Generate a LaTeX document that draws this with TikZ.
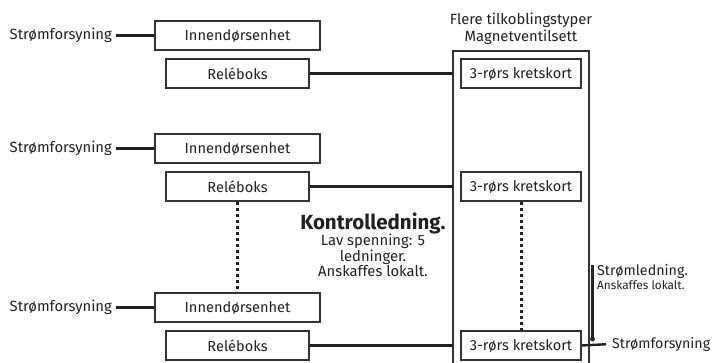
\documentclass[tikz,border=0pt]{standalone}
\usepackage{fontspec}
\setmainfont{Fira Sans}
\begin{document}
\begin{tikzpicture}[x=1pt,y=-1pt,
  unit/.style={draw=black!80, line width=1.5pt, rectangle, minimum height=29pt,
    inner sep=0pt, font=\fontsize{14.6}{16}\selectfont, text=black!87},
  lbl/.style={inner sep=1pt, font=\fontsize{14.8}{17}\selectfont, text=black!87},
  wire/.style={draw=black!87, line width=2.4pt},
  ctrl/.style={draw=black!87, line width=3pt, dash pattern=on 3pt off 3pt},
]
\useasboundingbox (0,0) rectangle (713,363);

% enclosure for the valve kit (continues past the lower edge)
\draw[draw=black!80, line width=1.5pt] (453,363) -- (453,51) -- (589,51) -- (589,363);
\node[lbl, align=center] (kit) at (521,29) {Flere tilkoblingstyper\\Magnetventilsett};

% three indoor-unit groups
\foreach \i/\yi/\yr in {1/35.5/73.5, 2/148.5/186.5, 3/307.5/345.5}{
  \node[unit, minimum width=165pt] (iu\i) at (237.5,\yi) {Innendørsenhet};
  \node[unit, minimum width=143pt] (rb\i) at (237.5,\yr) {Reléboks};
  \node[unit, minimum width=120pt] (kk\i) at (521,\yr) {3-rørs kretskort};
  \node[lbl, anchor=east] (psu\i) at (113,\yi) {Strømforsyning};
  \draw[wire] (psu\i.east) ++(3pt,0) -- (iu\i.west);
  \draw[wire] (rb\i.east) -- (rb\i.east -| 453,0);
}

% control wiring between groups
\draw[ctrl] (rb2.south) -- (iu3.north);
\draw[ctrl] (kk2.south) -- (kk3.north);
\node[align=center, inner sep=0pt, text=black!87] (ctl) at (373,245)
  {{\fontsize{20.5}{22}\selectfont\bfseries Kontrolledning.}\\[-1pt]
   {\fontsize{14.8}{16.8}\selectfont Lav spenning: 5}\\
   {\fontsize{14.8}{16.8}\selectfont ledninger.}\\
   {\fontsize{14.8}{16.8}\selectfont Anskaffes lokalt.}};

% external power supply to the circuit board
\node[lbl, anchor=west, font=\fontsize{14.2}{16}\selectfont] (psuR) at (611,344) {Strømforsyning};
\draw[wire, shorten >=5pt] (kk3.east) -- (psuR.west);
\coordinate (top) at (592.5,265);
\coordinate (tap) at (592.5,339);
\draw[wire] (top) -- (tap);
\fill[black!87] (tap) circle (2.4pt);
\node[lbl, anchor=north west, align=left] (note) at (596,263)
  {{\fontsize{14.3}{16}\selectfont Strømledning.}\\[-3pt]{\fontsize{11.8}{13}\selectfont Anskaffes lokalt.}};
\end{tikzpicture}
\end{document}
